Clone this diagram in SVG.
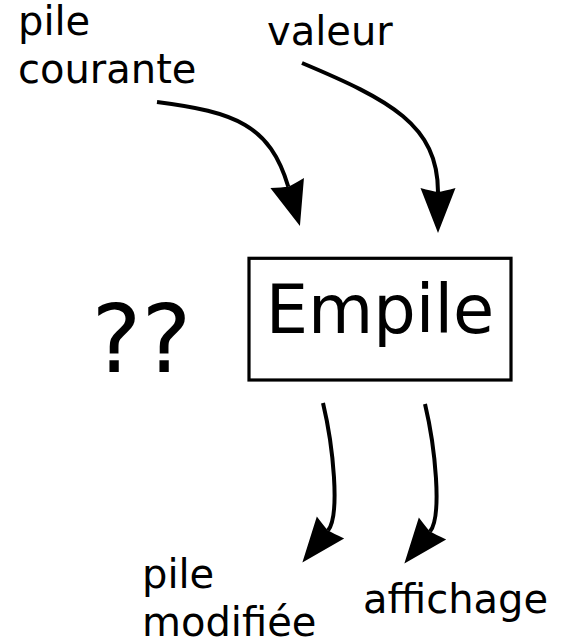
<svg xmlns="http://www.w3.org/2000/svg" width="563" height="642" viewBox="0 0 563 642">
  <style>
    .lbl { font-family: "DejaVu Sans", "Liberation Sans", sans-serif; font-size: 40px; fill: #000; }
    .flow { fill: none; stroke: #000; stroke-width: 4; marker-end: url(#head); }
    .box { fill: #fff; stroke: #000; stroke-width: 3.2; }
  </style>
  <defs>
    <!-- filled arrowhead with a shallow notch; origin sits at the notch -->
    <marker id="head" markerUnits="userSpaceOnUse" viewBox="-6 -20 50 40" markerWidth="50" markerHeight="40" refX="0" refY="0" orient="auto" overflow="visible">
      <path d="M41,0 L-4,-17.5 Q-1,-6 0,0 Q-1,6 -4,17.5 Z" fill="#000"/>
    </marker>
  </defs>

  <rect width="563" height="642" fill="#fff"/>

  <g id="connectors">
    <path class="flow" d="M157,102 C235,112 270,125 288.3,186.8"/>
    <path class="flow" d="M302,63 C390,100 438,125 438,192"/>
    <path class="flow" d="M323,403 C333,445 340.5,515 328,530.6"/>
    <path class="flow" d="M425,404 C435,446 442.5,516 430,531.6"/>
  </g>

  <g id="in-pile">
    <text class="lbl" x="18" y="35">pile</text>
    <text class="lbl" x="18" y="83">courante</text>
  </g>

  <g id="in-valeur">
    <text class="lbl" x="267" y="45">valeur</text>
  </g>

  <g id="empile">
    <rect class="box" x="249" y="258.3" width="262" height="121.7"/>
    <text x="380" y="333" text-anchor="middle" font-family="DejaVu Sans, Liberation Sans, sans-serif" font-size="67">Empile</text>
  </g>

  <g id="unknown">
    <text x="91.5" y="371.7" font-family="DejaVu Sans, Liberation Sans, sans-serif" font-size="94">??</text>
  </g>

  <g id="out-pile">
    <text class="lbl" x="142" y="588">pile</text>
    <text class="lbl" x="142" y="636">modifiée</text>
  </g>

  <g id="out-affichage">
    <text class="lbl" x="363" y="613">affichage</text>
  </g>
</svg>
